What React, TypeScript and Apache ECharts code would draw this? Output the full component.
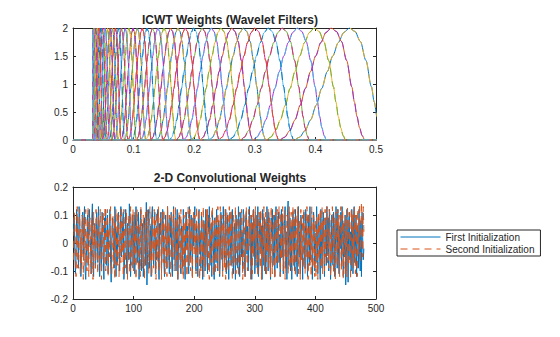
import React, { useEffect, useRef } from "react";
import * as echarts from "echarts";

const TITLES = ["ICWT Weights (Wavelet Filters)", "2-D Convolutional Weights"];
const LEGEND_NAMES = ["First Initialization", "Second Initialization"];

// Peak (centre) frequencies of the wavelet filters (high -> low)
const FILTER_PEAKS = [
  0.456, 0.426, 0.398, 0.370, 0.345, 0.322, 0.300, 0.281, 0.262, 0.244,
  0.228, 0.213, 0.199, 0.185, 0.173, 0.161, 0.150, 0.140, 0.131, 0.122,
  0.114, 0.106, 0.099, 0.092, 0.086, 0.080, 0.075, 0.070, 0.065, 0.061,
  0.057, 0.053, 0.049, 0.046, 0.043, 0.040, 0.037, 0.0345, 0.0322,
];
// Filter shape read from the highest filter: frequency relative to the peak, and magnitude
const PROFILE_R = [0.80, 0.82, 0.84, 0.86, 0.88, 0.90, 0.92, 0.94, 0.96, 0.98, 1.00, 1.02, 1.04, 1.06, 1.08, 1.09, 1.10, 1.11, 1.12, 1.13];
const PROFILE_V = [0, 0.05, 0.17, 0.36, 0.62, 0.92, 1.22, 1.50, 1.74, 1.92, 2.00, 1.94, 1.76, 1.42, 0.95, 0.68, 0.42, 0.22, 0.08, 0];
// Lowest frequency plotted (filters are cut off below it)
const FREQ_CUTOFF = 0.0325;

// 2-D convolutional weights, first initialization (blue)
const W1 = [
  .04,.09,-.03,-.11,-.06,.12,.07,.01,-.09,.13,.10,-.02,-.12,-.07,.05,.11,-.04,.08,.13,-.10,
  -.13,-.05,.02,.10,-.08,.06,.12,.03,-.01,-.11,.09,.14,-.06,-.12,.01,.07,-.09,-.03,.11,.05,
  -.07,.13,.08,-.12,-.02,.04,-.10,.11,.06,-.05,-.13,.09,.02,.12,-.08,-.04,.10,-.11,.03,.07,
  .12,-.06,-.14,.01,.09,.05,-.03,-.09,.13,.10,-.12,.04,-.07,.08,.11,-.01,-.10,.06,.13,-.05,
  -.02,.08,.11,-.13,-.08,.03,.12,-.04,-.11,.07,.01,-.06,.14,.09,-.12,-.03,.05,.10,-.09,.02,
  .10,-.11,.06,.13,-.01,-.07,.04,.11,-.13,-.05,.08,.12,-.10,.02,.07,-.12,-.06,.09,.03,-.08,
  .145,-.15,-.04,.08,.12,-.09,.01,.06,-.12,.10,.13,-.03,-.08,.05,.11,-.11,.02,-.06,.09,.12,
  -.05,-.13,.07,.03,.11,-.10,-.02,.12,.08,-.07,-.12,.04,.10,-.01,-.09,.13,.06,-.04,-.11,.09,
  .02,.11,-.08,-.12,.05,.13,-.06,.01,.09,-.10,.04,.12,-.13,-.03,.07,.10,-.07,-.11,.06,.03,
  -.09,.12,.05,-.04,-.13,.08,.11,-.02,.06,-.08,-.11,.13,.01,-.05,.10,.04,-.12,.09,-.01,.07,
  .13,-.07,-.10,.06,.02,-.12,.09,.12,-.04,.03,-.09,.11,.07,-.13,-.06,.08,.01,-.10,.12,.05,
  -.03,-.11,.10,.04,.13,-.08,-.01,.07,-.12,.11,.06,-.05,-.13,.09,.02,-.07,.12,.03,-.10,.08,
  .06,-.12,-.05,.11,.08,-.02,-.10,.13,.04,-.07,.01,.12,-.11,-.04,.10,.06,-.13,.07,.11,-.03,
  -.08,.09,.12,-.06,-.11,.03,.07,-.13,.10,.05,-.02,-.09,.13,.08,-.12,.01,.11,-.05,.04,-.10,
  .12,.02,-.07,-.12,.09,.11,-.04,.06,-.10,-.01,.13,.04,-.08,.10,-.13,.07,-.03,.12,.08,-.11,
  -.06,.10,.03,-.09,.13,-.12,-.05,.08,.11,-.02,.06,-.13,.12,.01,-.08,.09,.05,-.11,-.04,.13,
  .07,-.10,.11,.04,-.06,-.13,.09,.02,.12,-.08,-.03,.10,-.12,.06,.13,-.01,-.09,.05,.11,-.07,
  .03,-.12,.08,.12,-.05,.10,-.11,-.02,.07,.13,-.09,.04,-.13,.11,.15,-.08,.01,.09,-.10,.06,
  -.13,.05,.11,-.03,.08,-.10,.12,.02,-.07,-.12,.09,.13,-.05,.04,-.11,.10,.07,-.02,-.13,.08,
  .11,-.04,-.09,.12,.06,-.01,-.12,.10,.03,-.08,.13,-.06,.05,.09,-.13,-.03,.11,.07,-.10,.02,
  -.07,.13,.04,-.11,.10,.08,-.05,-.13,.12,.01,-.09,.06,.11,-.02,-.12,.09,.03,-.08,.13,-.04,
  .09,-.10,.12,.05,-.13,-.06,.10,.02,-.08,.11,.07,-.12,-.03,.13,.04,-.09,.12,-.01,-.11,.06,
  -.02,.11,-.08,.13,.03,-.12,.07,-.05,.10,-.15,-.09,.12,.01,-.14,.08,.11,-.06,.04,-.10,.12,
  .05,-.11,.09,.13,-.07,-.02,.10,-.12,.06,.03,-.09,.12,-.04,-.10,.08,-.12,.11,.02,-.06,-.02,
];
// 2-D convolutional weights, second initialization (orange, dashed)
const W2 = [
  -.06,.11,.08,-.04,-.12,.03,.13,-.09,-.02,.07,.12,-.11,.05,-.07,.10,.01,-.13,.09,.04,-.08,
  .12,-.03,-.10,.06,.13,-.12,.02,.09,-.05,-.11,.08,.04,-.13,.11,-.01,.07,-.09,.12,.05,-.06,
  -.11,.10,.03,-.08,.12,.06,-.13,-.04,.09,.11,-.07,.01,.13,-.10,-.02,.08,.12,-.12,.05,-.05,
  .09,.13,-.06,-.11,.02,.10,-.09,.07,-.13,.04,.12,-.03,-.08,.11,.06,-.12,.01,.10,-.07,.13,
  -.04,.07,-.12,.12,.05,-.09,-.02,.11,.08,-.13,.03,.10,-.06,-.11,.13,.02,-.08,.06,.12,-.10,
  .11,-.07,.04,-.13,.09,.12,-.01,-.10,.07,.03,-.12,.13,.06,-.05,-.09,.10,.02,-.13,.08,.11,
  -.08,.05,.12,-.02,-.11,.07,.13,-.06,.01,-.12,.10,.04,-.09,.12,-.03,.08,-.13,.11,.06,-.07,
  .13,-.10,-.04,.09,.06,-.13,.11,.02,-.07,.12,-.01,-.11,.08,.05,-.12,.13,-.06,.03,.10,-.09,
  -.12,.08,.11,-.05,.02,.12,-.10,-.08,.13,.04,-.06,.09,-.13,.07,.11,-.03,-.09,.12,.01,-.11,
  .06,-.13,.10,.03,-.09,.11,.07,-.12,-.02,.13,.05,-.08,.12,-.10,.01,.09,-.13,.06,.11,-.04,
  .10,.04,-.11,.13,-.07,-.01,.12,.08,-.13,.05,-.10,.11,.02,-.06,.13,-.12,.07,.03,-.09,.12,
  -.05,.12,.06,-.10,-.13,.09,.01,-.07,.11,.13,-.04,-.12,.08,.02,-.11,.10,.06,-.09,.13,-.02,
  .08,-.11,.13,.03,-.06,.10,-.12,.07,.04,-.09,.12,-.13,.01,.11,-.05,-.10,.09,.13,-.08,.05,
  .12,-.04,-.13,.08,.10,-.07,.03,.13,-.11,-.02,.09,.06,-.12,.04,.11,-.08,-.03,.12,.07,-.13,
  -.09,.11,.05,-.12,.02,.13,-.06,-.10,.08,.12,-.01,.07,-.13,.10,.04,-.11,.12,-.05,.09,.01,
  .13,-.08,.10,-.03,-.12,.06,.11,.01,-.09,.12,-.13,.05,.08,-.06,.13,-.10,.02,.11,-.12,.07,
  -.03,.12,-.09,.09,.06,-.12,.13,-.04,-.11,.07,.10,-.02,-.13,.11,.05,-.08,.12,-.07,.03,.13,
  .07,-.12,.11,-.06,.01,.13,-.10,.08,.12,-.13,.04,-.05,.10,.09,-.11,.02,.13,-.09,-.04,.11,
  -.10,.06,.13,-.08,.12,-.02,-.12,.10,.05,-.07,.13,-.11,.03,.08,-.13,.12,-.06,.01,.10,-.09,
  .12,.03,-.11,.07,-.05,.13,.09,-.13,.02,.11,-.08,.06,-.12,.13,-.01,-.09,.10,.05,-.12,.08,
  -.12,.10,.02,-.13,.11,-.06,.07,.12,-.09,-.03,.13,-.11,.08,.04,-.10,.12,-.05,.09,.13,-.07,
  .05,-.09,.12,.10,-.12,.03,-.07,.13,.06,-.11,.09,-.04,-.13,.11,.07,-.08,.12,-.02,.10,-.12,
  .09,.13,-.10,-.05,.12,-.13,.08,.01,-.11,.10,.06,-.12,.13,-.03,-.08,.11,.04,-.13,.12,.07,
  -.06,.11,-.09,.13,.02,-.11,.10,.07,-.12,.12,-.04,.09,.14,-.07,.03,.145,.08,-.05,.13,.04,
];

const FREQ_TICKS = { min: 0, max: 0.5, interval: 0.1 };
const MAG_TICKS = { min: 0, max: 2, interval: 0.5 };
const IDX_TICKS = { min: 0, max: 500, interval: 100 };
const W_TICKS = { min: -0.2, max: 0.2, interval: 0.1 };

const COLORS = ["#0072BD", "#D95319", "#EDB120", "#9433D6", "#6DB033", "#4DBEEE", "#E0208C"];
const AX = "#262626";
const FONT = "'Liberation Sans', Arial, Helvetica, sans-serif";

function filterCurve(peak: number): number[][] {
  const pts: number[][] = [[0, 0]];
  let prev: number[] | null = null;
  for (let i = 0; i < PROFILE_R.length; i++) {
    const x = PROFILE_R[i] * peak;
    const y = PROFILE_V[i];
    if (x < FREQ_CUTOFF) {
      prev = [x, y];
      continue;
    }
    if (prev) {
      const t = (FREQ_CUTOFF - prev[0]) / (x - prev[0]);
      pts.push([FREQ_CUTOFF, 0], [FREQ_CUTOFF, prev[1] + t * (y - prev[1])]);
      prev = null;
    }
    pts.push([x, y]);
  }
  pts.push([0.6, 0]);
  return pts;
}

function axisPair(grid: number, ticks: any, isX: boolean, labelMargin: number) {
  const common = {
    gridIndex: grid,
    type: "value",
    min: ticks.min,
    max: ticks.max,
    interval: ticks.interval,
    splitLine: { show: false },
    axisLine: { show: true, onZero: false, lineStyle: { color: AX, width: 1 } },
    axisTick: { show: true, inside: true, length: 3, lineStyle: { color: AX } },
  };
  return [
    {
      ...common,
      position: isX ? "bottom" : "left",
      axisLabel: { show: true, color: AX, fontSize: 10, fontFamily: FONT, margin: labelMargin },
    },
    {
      ...common,
      position: isX ? "top" : "right",
      axisLabel: { show: false },
    },
  ];
}

export default function App() {
  const ref = useRef<HTMLDivElement>(null);
  useEffect(() => {
    if (!ref.current) return;
    const chart = echarts.init(ref.current, null, { renderer: "svg" });
    const N = FILTER_PEAKS.length;
    const series: any[] = [];
    const curves = FILTER_PEAKS.map(filterCurve);
    for (let k = 0; k < N; k++) {
      series.push({
        type: "line", xAxisIndex: 0, yAxisIndex: 0, data: curves[k], symbol: "none",
        smooth: 0.3, smoothMonotone: "x", silent: true,
        lineStyle: { color: COLORS[k % 7], width: 1 },
      });
    }
    for (let k = 0; k < N; k++) {
      series.push({
        type: "line", xAxisIndex: 0, yAxisIndex: 0, data: curves[k], symbol: "none",
        smooth: 0.3, smoothMonotone: "x", silent: true,
        lineStyle: { color: COLORS[(k + 2) % 7], width: 1, type: [8, 5] },
      });
    }
    series.push({
      name: LEGEND_NAMES[0], type: "line", xAxisIndex: 2, yAxisIndex: 2,
      data: W1.map((v, i) => [i + 1, v]), symbol: "none", silent: true,
      color: "#0072BD", lineStyle: { color: "#0072BD", width: 1 },
    });
    series.push({
      name: LEGEND_NAMES[1], type: "line", xAxisIndex: 2, yAxisIndex: 2,
      data: W2.map((v, i) => [i + 1, v]), symbol: "none", silent: true,
      color: "#D95319", lineStyle: { color: "#D95319", width: 1, type: [7, 5] },
    });

    chart.setOption({
      animation: false,
      backgroundColor: "#ffffff",
      textStyle: { fontFamily: FONT },
      title: [
        { text: TITLES[0], left: 225, top: 9, textAlign: "center",
          textStyle: { fontSize: 12, fontWeight: "bold", color: AX, fontFamily: FONT } },
        { text: TITLES[1], left: 225, top: 167, textAlign: "center",
          textStyle: { fontSize: 12, fontWeight: "bold", color: AX, fontFamily: FONT } },
      ],
      grid: [
        { left: 73, top: 28, width: 303, height: 112 },
        { left: 73, top: 187, width: 303, height: 112 },
      ],
      xAxis: [...axisPair(0, FREQ_TICKS, true, 4), ...axisPair(1, IDX_TICKS, true, 4)],
      yAxis: [...axisPair(0, MAG_TICKS, false, 5), ...axisPair(1, W_TICKS, false, 5)],
      legend: {
        data: LEGEND_NAMES, orient: "vertical", left: 397, top: 230,
        itemWidth: 40, itemHeight: 10, itemGap: 2, padding: [2, 6, 2, 3],
        borderColor: AX, borderWidth: 1, backgroundColor: "#ffffff",
        itemStyle: { opacity: 0 },
        lineStyle: { width: 1, opacity: 1 },
        textStyle: { fontSize: 10, color: AX, fontFamily: FONT },
      },
      series,
    });
    return () => chart.dispose();
  }, []);
  return (
    <div
      ref={ref}
      style={{ position: "fixed", left: 0, top: 0, width: 560, height: 337, background: "#fff" }}
    />
  );
}
